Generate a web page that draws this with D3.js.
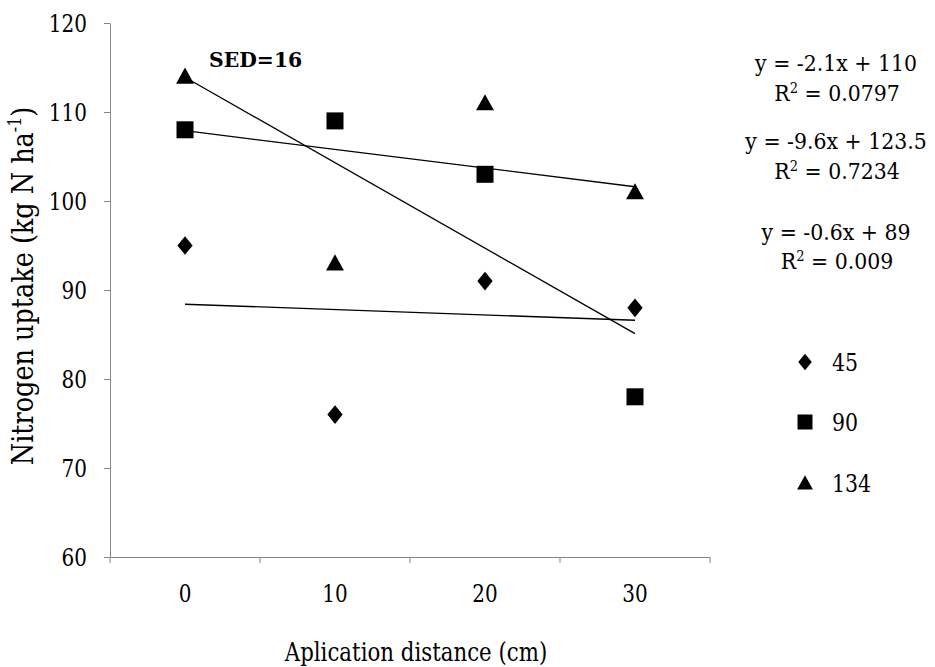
<!DOCTYPE html>
<html>
<head>
<meta charset="utf-8">
<script src="https://cdn.jsdelivr.net/npm/d3@7/dist/d3.min.js"></script>
<style>
  html, body { margin: 0; padding: 0; background: #fff; }
</style>
</head>
<body>
<svg id="chart" width="935" height="667" font-family="DejaVu Serif"></svg>
<script>
// Application distance categories (cm)
const categories = ["0", "10", "20", "30"];
// Nitrogen rate series (kg N/ha)
const seriesNames = ["45", "90", "134"];
const seriesShapes = ["diamond", "square", "triangle"];
// Nitrogen uptake values per series, one per category
const uptake45 = [95, 76, 91, 88];
const uptake90 = [108, 109, 103, 78];
const uptake134 = [114, 93, 111, 101];
// Y axis ticks
const yTicks = [60, 70, 80, 90, 100, 110, 120];
// Order in which the fitted equations are listed at the right
const equationOrder = ["134", "90", "45"];

const FONT = "DejaVu Serif";

const seriesValues = [uptake45, uptake90, uptake134];
const series = seriesNames.map((name, i) => ({ name, shape: seriesShapes[i], values: seriesValues[i] }));

const svg = d3.select("#chart");
const margin = { left: 110, right: 225, top: 23, bottom: 110 };
const W = 935, H = 667;

const x = d3.scaleBand().domain(categories).range([margin.left, W - margin.right]);
const y = d3.scaleLinear().domain([60, 120]).range([H - margin.bottom, margin.top]);
const cx = c => x(c) + x.bandwidth() / 2;

const axisColor = "#868686";

// Narrow the serif face horizontally so it sets like a condensed Roman
function squeeze(sel, sx) {
  sel.each(function () {
    const t = d3.select(this);
    const tx = +t.attr("x") || 0, ty = +t.attr("y") || 0;
    t.attr("x", 0).attr("y", 0).attr("transform", `translate(${tx},${ty}) scale(${sx},1)`);
  });
}

// Y axis
const yAxis = svg.append("g")
  .attr("transform", `translate(${margin.left},0)`)
  .call(d3.axisLeft(y).tickValues(yTicks).tickSize(6).tickSizeOuter(0).tickPadding(17));
yAxis.attr("font-family", FONT);
yAxis.select(".domain").attr("stroke", axisColor);
yAxis.selectAll(".tick line").attr("stroke", axisColor);
yAxis.selectAll(".tick text").attr("font-size", 25).attr("fill", "#000").call(squeeze, 0.8);

// X axis: labels centred in each category, tick marks on category boundaries
const y0 = y(60);
const xAxis = svg.append("g")
  .attr("transform", `translate(0,${y0})`)
  .call(d3.axisBottom(x).tickSize(0).tickSizeOuter(0).tickPadding(27));
xAxis.attr("font-family", FONT);
xAxis.select(".domain").attr("stroke", axisColor);
xAxis.selectAll(".tick text").attr("font-size", 25).attr("fill", "#000").call(squeeze, 0.8);
const boundaries = categories.map(c => x(c)).concat([x(categories[categories.length - 1]) + x.bandwidth()]);
svg.append("g").selectAll("line").data(boundaries).join("line")
  .attr("x1", d => d).attr("x2", d => d)
  .attr("y1", y0).attr("y2", y0 + 6)
  .attr("stroke", axisColor);

// Axis titles
svg.append("text")
  .attr("x", (margin.left + W - margin.right) / 2 + 6)
  .attr("y", 661)
  .attr("text-anchor", "middle")
  .attr("font-size", 26)
  .text("Aplication distance (cm)")
  .call(squeeze, 0.82);

const yTitle = svg.append("text")
  .attr("transform", `translate(33,${(y(60) + y(120)) / 2 - 4}) rotate(-90) scale(0.88,1)`)
  .attr("text-anchor", "middle")
  .attr("font-size", 29);
yTitle.append("tspan").text("Nitrogen uptake (kg N ha");
yTitle.append("tspan").attr("font-size", 18).attr("dy", -12).text("-1");
yTitle.append("tspan").attr("dy", 12).text(")");

// Least-squares linear fit against category position 1..n
function fit(values) {
  const xs = values.map((_, i) => i + 1);
  const mx = d3.mean(xs), my = d3.mean(values);
  const sxy = d3.sum(xs, (xv, i) => (xv - mx) * (values[i] - my));
  const sxx = d3.sum(xs, xv => (xv - mx) ** 2);
  const slope = sxy / sxx, intercept = my - slope * mx;
  const ssTot = d3.sum(values, v => (v - my) ** 2);
  const ssRes = d3.sum(values, (v, i) => (v - (slope * xs[i] + intercept)) ** 2);
  return { slope, intercept, r2: 1 - ssRes / ssTot };
}

// Trend lines
series.forEach(s => {
  s.fit = fit(s.values);
  const pts = [0, categories.length - 1].map(i => [cx(categories[i]), y(s.fit.slope * (i + 1) + s.fit.intercept)]);
  svg.append("path")
    .attr("d", d3.line()(pts))
    .attr("fill", "none")
    .attr("stroke", "#000")
    .attr("stroke-width", 1.3);
});

// Marker shapes
function markerPath(shape, size) {
  const h = size / 2;
  if (shape === "diamond") return `M0,${-h * 1.1}L${h * 0.9},0L0,${h * 1.1}L${-h * 0.9},0Z`;
  if (shape === "square") return `M${-h},${-h}H${h}V${h}H${-h}Z`;
  return `M0,${-h * 1.05}L${h * 1.05},${h * 0.85}L${-h * 1.05},${h * 0.85}Z`;
}

series.forEach(s => {
  svg.append("g").selectAll("path").data(s.values).join("path")
    .attr("transform", (d, i) => `translate(${cx(categories[i])},${y(d)})`)
    .attr("d", markerPath(s.shape, 17))
    .attr("fill", "#000");
});

// SED annotation
svg.append("text")
  .attr("x", 209).attr("y", 67)
  .attr("font-size", 21).attr("font-weight", "bold")
  .text("SED=16")
  .call(squeeze, 0.97);

// Fitted equations
const fmt1 = v => String(+v.toFixed(1));
const fmt4 = v => String(+v.toFixed(4));
const eqY = [[71, 101], [149, 179], [240, 269]];
equationOrder.forEach((name, k) => {
  const s = series.find(d => d.name === name);
  const f = s.fit;
  svg.append("text")
    .attr("x", 836).attr("y", eqY[k][0])
    .attr("text-anchor", "middle").attr("font-size", 22)
    .text(`y = ${fmt1(f.slope)}x + ${fmt1(f.intercept)}`)
    .call(squeeze, 0.93);
  const r = svg.append("text")
    .attr("x", 837).attr("y", eqY[k][1])
    .attr("text-anchor", "middle").attr("font-size", 22);
  r.append("tspan").text("R");
  r.append("tspan").attr("font-size", 14).attr("dy", -8).text("2");
  r.append("tspan").attr("dy", 8).text(` = ${fmt4(f.r2)}`);
  r.call(squeeze, 0.93);
});

// Legend
const legY = [362, 422, 483];
const legend = svg.append("g");
series.forEach((s, i) => {
  legend.append("path")
    .attr("transform", `translate(805,${legY[i]})`)
    .attr("d", markerPath(s.shape, 15))
    .attr("fill", "#000");
  legend.append("text")
    .attr("x", 832).attr("y", legY[i] + 9)
    .attr("font-size", 25)
    .text(s.name)
    .call(squeeze, 0.82);
});
</script>
</body>
</html>
